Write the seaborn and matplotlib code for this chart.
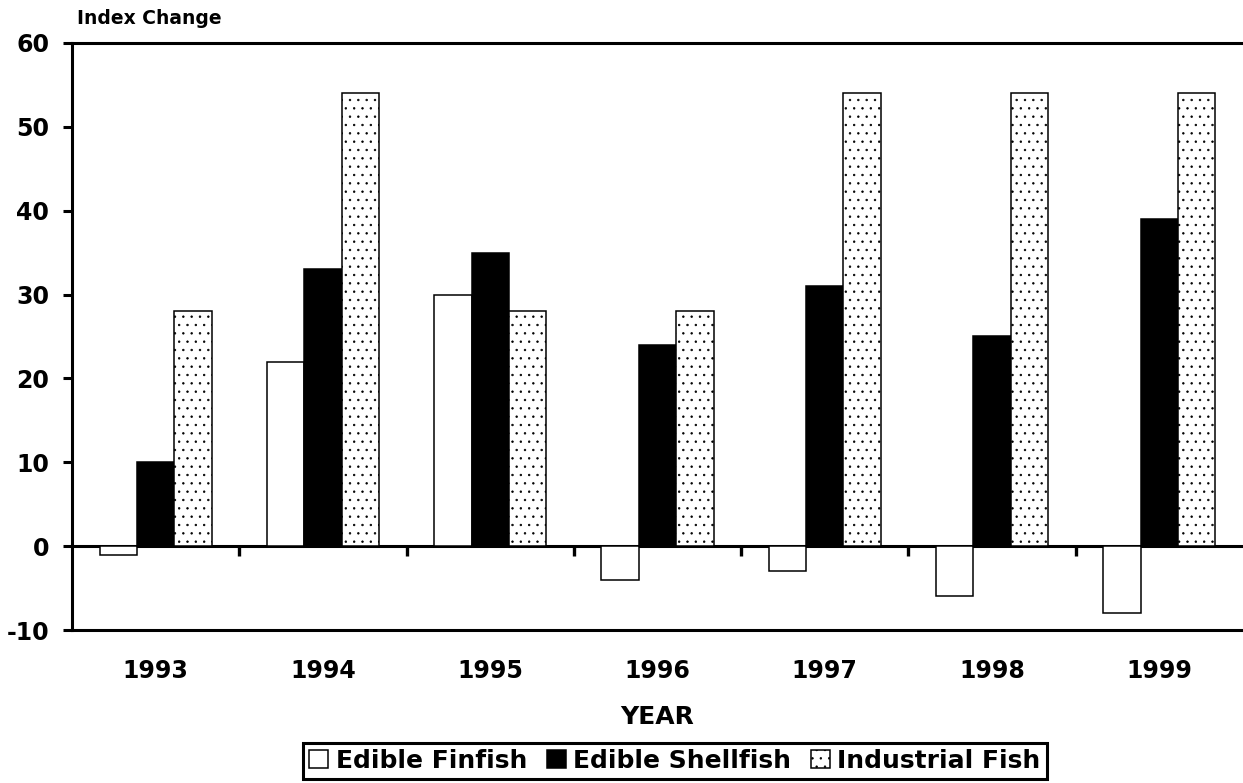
import matplotlib
matplotlib.use("Agg")
import matplotlib.pyplot as plt
import seaborn as sns
import pandas as pd

years = ["1993", "1994", "1995", "1996", "1997", "1998", "1999"]
edible_finfish = [-1, 22, 30, -4, -3, -6, -8]
edible_shellfish = [10, 33, 35, 24, 31, 25, 39]
industrial_fish = [28, 54, 28, 28, 54, 54, 54]
series_names = ["Edible Finfish", "Edible Shellfish", "Industrial Fish"]
y_ticks = [-10, 0, 10, 20, 30, 40, 50, 60]

sns.set_theme(style="white")
plt.rcParams["font.family"] = ["DejaVu Sans"]
plt.rcParams["font.weight"] = "bold"
plt.rcParams["text.color"] = "black"
plt.rcParams["axes.labelcolor"] = "black"
plt.rcParams["xtick.color"] = "black"
plt.rcParams["ytick.color"] = "black"
plt.rcParams["hatch.color"] = "#666666"
plt.rcParams["hatch.linewidth"] = 0.5

df = pd.DataFrame({
    "year": years * 3,
    "value": edible_finfish + edible_shellfish + industrial_fish,
    "series": [series_names[0]] * 7 + [series_names[1]] * 7 + [series_names[2]] * 7,
})

fig = plt.figure(figsize=(12.43, 7.83), dpi=100)
ax = fig.add_axes([72 / 1243, 1 - 630 / 783, 1 - 72 / 1243, (630 - 43) / 783])

sns.barplot(data=df, x="year", y="value", hue="series", order=years,
            hue_order=series_names,
            palette=["white", "black", "white"], width=0.67,
            edgecolor="black", linewidth=1.1, saturation=1, ax=ax, errorbar=None)

for p in ax.containers[2].patches:
    p.set_hatch("..")

ax.set_xlim(-0.5, 6.5)
ax.set_ylim(-10, 60)
ax.set_yticks(y_ticks)
ax.set_yticklabels([str(v) for v in y_ticks], fontsize=17, fontweight="bold",
                   color="black")
ax.set_xticks(range(len(years)))
ax.set_xticklabels(years, fontsize=17, fontweight="bold", color="black")
ax.tick_params(axis="x", length=0, pad=21)
ax.tick_params(axis="y", direction="out", length=6.5, width=2.2, pad=10,
               left=True, color="black")
ax.set_xlabel("")
ax.set_ylabel("")
for s in ["left", "top", "bottom"]:
    ax.spines[s].set_linewidth(2.2)
    ax.spines[s].set_color("black")
ax.spines["right"].set_visible(False)

# zero line with group-boundary ticks
sec = ax.secondary_xaxis(0, transform=ax.transData)
sec.set_xticks([i + 0.5 for i in range(len(years) - 1)])
sec.set_xticklabels([])
sec.tick_params(axis="x", direction="out", length=7.5, width=2.4,
                bottom=True, color="black")
for s in sec.spines.values():
    s.set_linewidth(2.2)
    s.set_color("black")

fig.text(77 / 1243, 1 - 19 / 783, "Index Change", fontsize=13.5,
         fontweight="bold", ha="left", va="center", color="black")
fig.text((72 + 1243) / 2 / 1243, 1 - 717 / 783, "YEAR", fontsize=18,
         fontweight="bold", ha="center", va="center", color="black")

leg_old = ax.get_legend()
if leg_old is not None:
    leg_old.remove()
handles = [c.patches[0] for c in ax.containers]
leg = fig.legend(handles, series_names, loc="center", ncol=3,
                 bbox_to_anchor=(675 / 1243, 1 - 761 / 783),
                 frameon=True, fancybox=False, edgecolor="black", framealpha=1,
                 prop={"size": 18, "weight": "bold"},
                 handlelength=0.75, handleheight=0.75, handletextpad=0.3,
                 columnspacing=0.8, borderpad=0.25, borderaxespad=0)
leg.get_frame().set_linewidth(2.2)
leg.get_frame().set_edgecolor("black")
for t in leg.get_texts():
    t.set_color("black")

fig.savefig("out.png", dpi=100)
